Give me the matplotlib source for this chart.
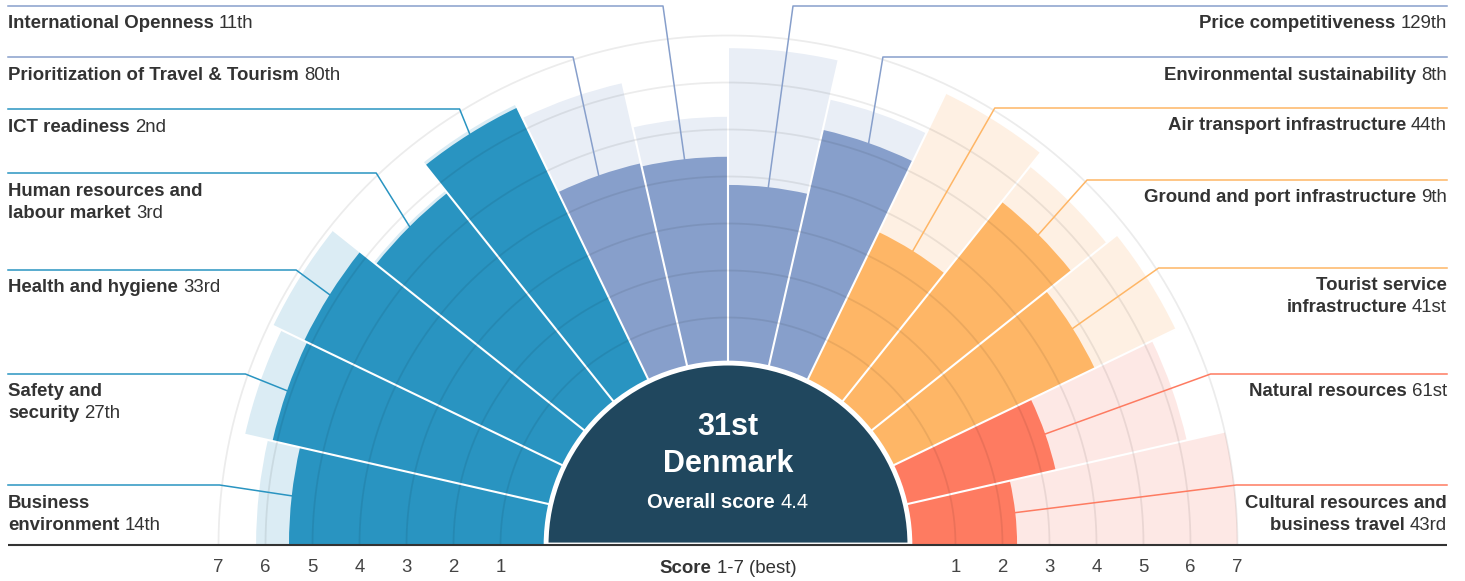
import numpy as np
import matplotlib.pyplot as plt
from matplotlib.patches import Wedge

plt.rcParams['font.family'] = ['Liberation Sans', 'DejaVu Sans']

# pillar names (line breaks as drawn), rank and score of Denmark, best score in the pillar
pillars = ['Business\nenvironment', 'Safety and\nsecurity', 'Health and hygiene',
           'Human resources and\nlabour market', 'ICT readiness',
           'Prioritization of Travel & Tourism', 'International Openness',
           'Price competitiveness', 'Environmental sustainability',
           'Air transport infrastructure', 'Ground and port infrastructure',
           'Tourist service\ninfrastructure', 'Natural resources',
           'Cultural resources and\nbusiness travel']
ranks = ['14th', '27th', '33rd', '3rd', '2nd', '80th', '11th',
         '129th', '8th', '44th', '9th', '41st', '61st', '43rd']
scores = [5.5, 6.1, 6.17, 5.74, 6.49, 4.49, 4.42,
          3.82, 5.22, 3.55, 5.5, 4.82, 3.31, 2.31]
best = [6.2, 6.7, 6.9, 5.8, 6.56, 6.24, 5.27,
        6.73, 5.88, 6.82, 6.46, 6.73, 6.17, 7.0]
groups = ['enabling'] * 5 + ['policy'] * 4 + ['infra'] * 3 + ['natural'] * 2

country = 'Denmark'
overall_rank = '31st'
overall_score = 4.4
score_ticks = [1, 2, 3, 4, 5, 6, 7]

colors = {'enabling': ('#2994c1', '#dbecf4'),
          'policy': ('#879fcb', '#e9eef6'),
          'infra': ('#feb666', '#fef0e3'),
          'natural': ('#fe7b61', '#fde8e5')}
dark = '#20475e'
text_c = '#333333'

# layout in pixels
W, H = 1465, 581
cx, cy = 728, 545
unit = 47.0           # pixels per score point
hole = 180.5 / unit   # score 0 sits on the edge of the centre disc
label_y = [485, 374, 270, 173, 109, 57, 6, 6, 57, 108, 180, 268, 374, 485]
fs = 13.4


def px(x, y):
    return (x - cx) / unit, (cy - y) / unit


fig = plt.figure(figsize=(W / 100, H / 100), dpi=100)
ax = fig.add_axes([0, 0, 1, 1])
ax.set_xlim(-cx / unit, (W - cx) / unit)
ax.set_ylim(-(H - cy) / unit, cy / unit)
ax.axis('off')

n = len(pillars)
step = 180.0 / n
mids = []
for i in range(n):
    t2 = 180 - i * step
    t1 = t2 - step
    mids.append(np.radians((t1 + t2) / 2))
    main, light = colors[groups[i]]
    ax.add_patch(Wedge((0, 0), hole + best[i], t1, t2, width=best[i], fc=light, ec='none'))
    ax.add_patch(Wedge((0, 0), hole + scores[i], t1, t2, width=scores[i], fc=main, ec='none'))

# white separators between sectors
for i in range(1, n):
    a = np.radians(180 - i * step)
    r_out = hole + max(best[i - 1], best[i], scores[i - 1], scores[i]) + 0.05
    ax.plot([hole * np.cos(a), r_out * np.cos(a)], [hole * np.sin(a), r_out * np.sin(a)],
            color='white', lw=1.5, solid_capstyle='butt')

# score gridlines
th = np.linspace(0, np.pi, 400)
for s in score_ticks:
    ax.plot((hole + s) * np.cos(th), (hole + s) * np.sin(th), color='black', alpha=0.075, lw=1.3)

# centre disc
ax.add_patch(Wedge((0, 0), hole + 0.03, 0, 180, fc=dark, ec='white', lw=3.5))

# baseline and score scale
x0, _ = px(8, 0)
x1, _ = px(1447, 0)
ax.plot([x0, x1], [0, 0], color=text_c, lw=1.5, solid_capstyle='butt')
_, ty = px(0, 568)
for s in score_ticks:
    for sign in (-1, 1):
        ax.text(sign * (hole + s), ty, str(s), ha='center', va='center', fontsize=fs, color='#444444')

fig.canvas.draw()
renderer = fig.canvas.get_renderer()


def rich(x, y, parts, ha, size=fs, color=text_c):
    """Draw a run of (text, weight) pieces on one baseline; x, y in pixels."""
    texts, widths = [], []
    for s, w in parts:
        t = ax.text(0, 0, s, fontsize=size, fontweight=w, color=color, va='baseline', ha='left')
        texts.append(t)
        widths.append(t.get_window_extent(renderer).width)
    gap = 0.28 * size * 100 / 72
    total = sum(widths) + gap * (len(parts) - 1)
    start = {'left': x, 'right': x - total, 'center': x - total / 2}[ha]
    for t, w in zip(texts, widths):
        t.set_position(px(start, y))
        start += w + gap


# pillar labels and leader lines
R_elbow = 512.0
for i in range(n):
    left = mids[i] > np.pi / 2
    main = colors[groups[i]][0]
    ly = label_y[i]
    dy = cy - ly
    ex = max(np.sqrt(max(R_elbow ** 2 - dy ** 2, 0)), 65)
    edge_x = 8 if left else 1447
    elbow_x = cx - ex if left else cx + ex
    r = hole + scores[i]
    bx, by = r * np.cos(mids[i]), r * np.sin(mids[i])
    (ax0, ay0), (ax1, ay1) = px(edge_x, ly), px(elbow_x, ly)
    ax.plot([ax0, ax1, bx], [ay0, ay1, by], color=main, lw=1.1)

    lines = pillars[i].split('\n')
    for j, line in enumerate(lines):
        parts = [(line, 'bold')]
        if j == len(lines) - 1:
            parts.append((ranks[i], 'normal'))
        rich(edge_x, ly + 22.5 + 22 * j, parts, 'left' if left else 'right')

# centre text
ax.text(*px(cx, 427), overall_rank, ha='center', va='center', fontsize=22,
        fontweight='bold', color='white')
ax.text(*px(cx, 464), country, ha='center', va='center', fontsize=22,
        fontweight='bold', color='white')
rich(cx, 508, [('Overall score', 'bold'), (f'{overall_score}', 'normal')], 'center',
     size=14.5, color='white')

rich(cx, 573, [('Score', 'bold'), ('1-7 (best)', 'normal')], 'center')

fig.savefig('out.png', dpi=100)
